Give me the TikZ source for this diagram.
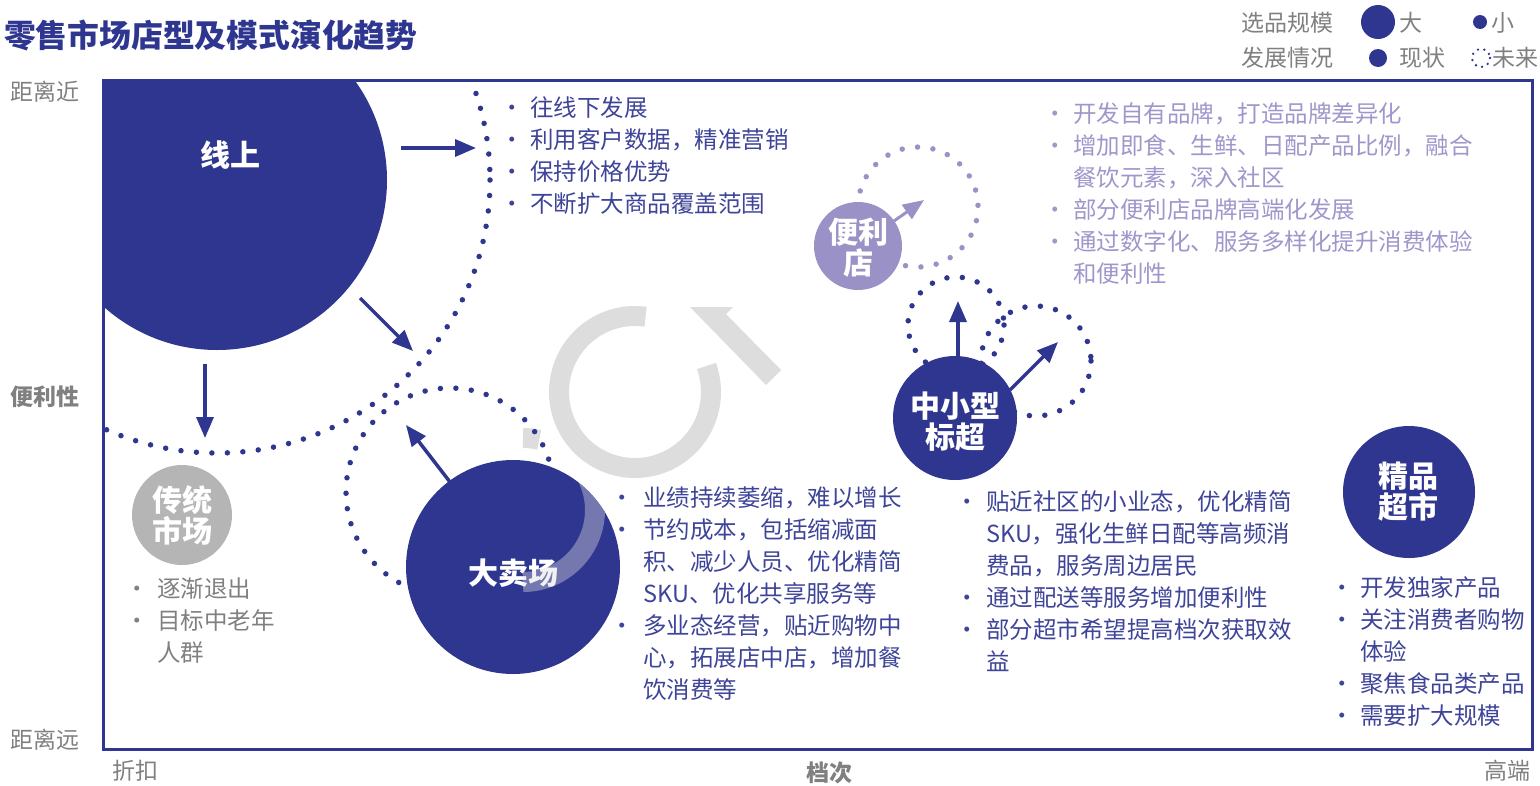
\documentclass[tikz,border=0pt]{standalone}
\usepackage{fontspec}
\setmainfont{Noto Sans CJK SC}
\usetikzlibrary{arrows.meta}
\definecolor{navy}{RGB}{46,54,144}
\definecolor{navytxt}{RGB}{62,68,152}
\definecolor{purp}{RGB}{154,146,199}
\definecolor{purptxt}{RGB}{158,151,203}
\definecolor{grayc}{RGB}{180,181,180}
\definecolor{graytxt}{RGB}{128,128,128}
\definecolor{wmgray}{RGB}{221,221,221}
\newcommand\mybul[1]{\makebox[#1][l]{\hspace*{-9pt}·}}
\newcommand\myind[1]{\hspace*{#1}}
\begin{document}
\begin{tikzpicture}[x=1pt,y=-1pt,
  bubble/.style={circle, inner sep=0pt, minimum size=#1},
  lbl/.style={text=white, font=\fontsize{30}{31}\selectfont\bfseries, align=center, inner sep=0pt},
  note/.style={anchor=base west, inner sep=0pt, text width=600pt, align=left, font=\fontsize{23.5}{32}\selectfont},
  axis/.style={text=graytxt, inner sep=0pt, font=\fontsize{23}{28}\selectfont},
  dots/.style={line width=5.5pt, line cap=round, dash pattern=on 0pt off 15.5pt},
  arr/.style={line width=3.5pt, -{Triangle[length=21pt,width=17pt]}},
  wm/.style={draw=wmgray, line width=20pt}
]
\useasboundingbox (0,0) rectangle (1540,785);

% watermark
\draw[wm] ([shift={(-82:76)}]635,392) arc[start angle=-82, end angle=-380, radius=76];
\fill[wmgray] (690,307) -- (733,307) -- (726,314) -- (781,370) -- (766,385) -- cycle;
\draw[wm] ([shift={(-90:72)}]523,510) arc[start angle=-90, end angle=-77, radius=72];

% online (clipped to frame)
\begin{scope}
  \clip (103,80) rectangle (1532,749);
  \draw[dots, navy] (217,180) circle[radius=273];
  \node[bubble=340pt, fill=navy] (online) at (217,180) {};
\end{scope}

% future dotted circles
\draw[dots, navy] (450,492) circle[radius=104];
\draw[dots, purp] ([shift={(102:60)}]918,207) arc[start angle=102, end angle=-166, radius=60];
\draw[dots, navy] (956,325) circle[radius=48];
\draw[dots, navy] (1036,361) circle[radius=55];

% bubbles
\node[bubble=100pt, fill=grayc] (trad) at (182,515) {};
\node[bubble=214pt, fill=navy] (hyper) at (513,567) {};
\node[bubble=88pt, fill=purp] (conv) at (858,246) {};
\node[bubble=124pt, fill=navy] (small) at (955,418) {};
\node[bubble=132pt, fill=navy] (premium) at (1409,492) {};

% labels
\node[lbl] (onlinelbl) at (230,155) {线上};
\node[lbl] (tradlbl) at (182,515) {传统\\市场};
\node[lbl] (hyperlbl) at (513,573) {大卖场};
\node[lbl] (convlbl) at (858,248) {便利\\店};
\node[lbl] (smalllbl) at (955,422) {中小型\\标超};
\node[lbl] (premiumlbl) at (1408,492) {精品\\超市};

% watermark overlay on hypermarket
\begin{scope}
  \clip (513,567) circle[radius=107];
  \draw[wm, opacity=0.4] ([shift={(-60:72)}]523,510) arc[start angle=-60, end angle=90, radius=72];
\end{scope}

% arrow end points
\coordinate (a1s) at (401,148); \coordinate (a1e) at (476,148);
\coordinate (a2s) at (360,298); \coordinate (a2e) at (413,351);
\coordinate (a3s) at (205,364); \coordinate (a3e) at (205,438);
\coordinate (a4s) at (450,482); \coordinate (a4e) at (406,425);
\coordinate (a5s) at (894,221); \coordinate (a5e) at (924,200);
\coordinate (a6s) at (958,357); \coordinate (a6e) at (958,301);
\coordinate (a7s) at (1010,390); \coordinate (a7e) at (1058,342);
\draw[arr, navy] (a1s) -- (a1e);
\draw[arr, navy] (a2s) -- (a2e);
\draw[arr, navy] (a3s) -- (a3e);
\draw[arr, navy] (a4s) -- (a4e);
\draw[arr, purp, line width=3pt] (a5s) -- (a5e);
\draw[arr, navy] (a6s) -- (a6e);
\draw[arr, navy] (a7s) -- (a7e);

% frame
\draw[navy, line width=3pt] (103,80) rectangle (1532,749);

% title
\node[text=navy, inner sep=0pt, anchor=west, font=\fontsize{31.8}{36}\selectfont\bfseries] (title) at (4,35) {零售市场店型及模式演化趋势};

% legend
\node[axis] (leg1) at (1287,23) {选品规模};
\node[bubble=34pt, fill=navy] (legbig) at (1378,22) {};
\node[axis] (legbigt) at (1411,23) {大};
\node[bubble=14pt, fill=navy] (legsmall) at (1480,22) {};
\node[axis] (legsmallt) at (1503,23) {小};
\node[axis] (leg2) at (1287,58) {发展情况};
\node[bubble=18pt, fill=navy] (legnow) at (1378,58) {};
\node[axis] (legnowt) at (1422,58) {现状};
\node[bubble=18pt] (legfut) at (1481,58) {};
\draw[navy, line width=2.6pt, line cap=round, dash pattern=on 0pt off 6.5pt] (legfut.center) circle[radius=9];
\node[axis] (legfutt) at (1515,58) {未来};

% axes labels
\node[axis] (near) at (45,92) {距离近};
\node[axis, font=\fontsize{23}{28}\selectfont\bfseries] (conven) at (45,397) {便利性};
\node[axis] (far) at (45,740) {距离远};
\node[axis] (disc) at (135,771) {折扣};
\node[axis, font=\fontsize{23}{28}\selectfont\bfseries] (grade) at (829,773) {档次};
\node[axis] (high) at (1507,771) {高端};

% notes
\node[note, text=navytxt] (onlinetxt) at (509,116) {\mybul{21pt}往线下发展\\
\mybul{21pt}利用客户数据，精准营销\\
\mybul{21pt}保持价格优势\\
\mybul{21pt}不断扩大商品覆盖范围};

\node[note, text=purptxt] (convtxt) at (1052,122) {\mybul{21pt}开发自有品牌，打造品牌差异化\\
\mybul{21pt}增加即食、生鲜、日配产品比例，融合\\
\myind{21pt}餐饮元素，深入社区\\
\mybul{21pt}部分便利店品牌高端化发展\\
\mybul{21pt}通过数字化、服务多样化提升消费体验\\
\myind{21pt}和便利性};

\node[note, text=navytxt] (hypertxt) at (619,506) {\mybul{24pt}业绩持续萎缩，难以增长\\
\mybul{24pt}节约成本，包括缩减面\\
\myind{24pt}积、减少人员、优化精简\\
\myind{24pt}SKU、优化共享服务等\\
\mybul{24pt}多业态经营，贴近购物中\\
\myind{24pt}心，拓展店中店，增加餐\\
\myind{24pt}饮消费等};

\node[note, text=navytxt] (smalltxt) at (964,510) {\mybul{22pt}贴近社区的小业态，优化精简\\
\myind{22pt}SKU，强化生鲜日配等高频消\\
\myind{22pt}费品，服务周边居民\\
\mybul{22pt}通过配送等服务增加便利性\\
\mybul{22pt}部分超市希望提高档次获取效\\
\myind{22pt}益};

\node[note, text=navytxt] (premiumtxt) at (1339,596) {\mybul{21pt}开发独家产品\\
\mybul{21pt}关注消费者购物\\
\myind{21pt}体验\\
\mybul{21pt}聚焦食品类产品\\
\mybul{21pt}需要扩大规模};

\node[note, text=graytxt] (tradtxt) at (134,597) {\mybul{23pt}逐渐退出\\
\mybul{23pt}目标中老年\\
\myind{23pt}人群};
\end{tikzpicture}
\end{document}
